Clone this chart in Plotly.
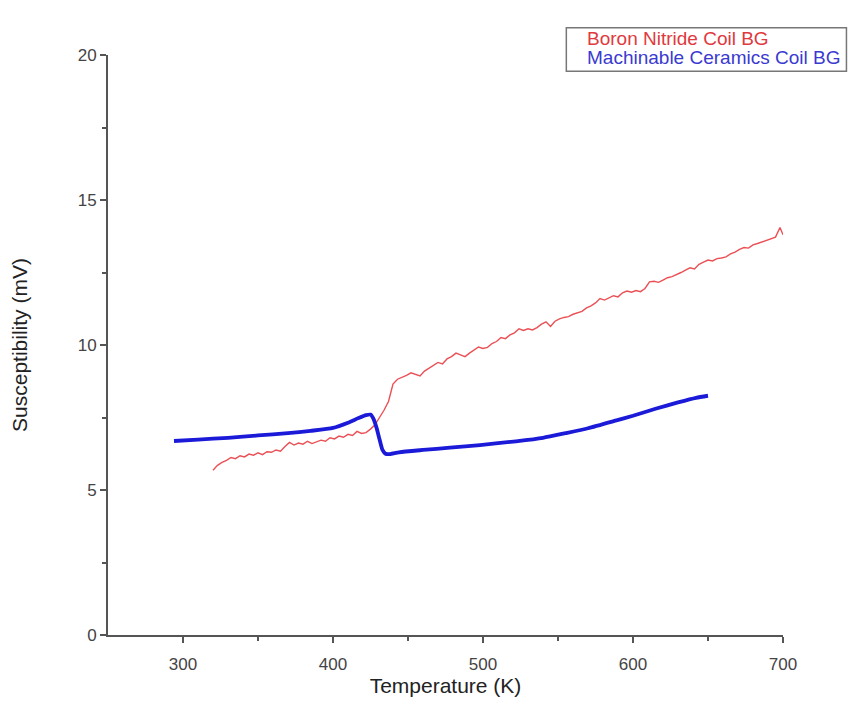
import plotly.graph_objects as go

# Boron Nitride Coil BG (red, noisy)
bn_temp = [320,323,326,329,332,335,338,341,344,347,350,353,356,359,362,365,368,371,374,377,
           380,383,386,389,392,395,398,401,404,407,410,413,416,419,422,425,428,431,434,437,
           440,443,446,449,452,455,458,461,464,467,470,473,476,479,482,485,488,491,494,497,
           500,503,506,509,512,515,518,521,524,527,530,533,536,539,542,545,548,551,554,557,
           560,563,566,569,572,575,578,581,584,587,590,593,596,599,602,605,608,611,614,617,
           620,623,626,629,632,635,638,641,644,647,650,653,656,659,662,665,668,671,674,677,
           680,683,686,689,692,695,698,700]
bn_susc = [5.68,5.85,5.95,6.02,6.12,6.08,6.18,6.14,6.24,6.20,6.28,6.22,6.32,6.30,6.38,6.34,6.50,6.64,6.55,6.62,
           6.58,6.68,6.60,6.66,6.72,6.68,6.80,6.76,6.86,6.82,6.92,6.88,7.02,6.95,6.98,7.10,7.25,7.50,7.75,8.05,
           8.65,8.82,8.88,8.95,9.04,8.98,8.93,9.10,9.20,9.30,9.40,9.35,9.52,9.60,9.72,9.66,9.60,9.72,9.82,9.93,
           9.88,9.92,10.05,10.12,10.26,10.22,10.35,10.42,10.56,10.50,10.56,10.52,10.60,10.72,10.80,10.64,10.82,10.90,10.95,10.98,
           11.06,11.10,11.16,11.28,11.35,11.45,11.60,11.55,11.62,11.70,11.66,11.80,11.86,11.82,11.88,11.84,11.95,12.18,12.20,12.16,
           12.24,12.32,12.36,12.42,12.50,12.58,12.66,12.62,12.78,12.86,12.93,12.90,12.98,13.00,13.04,13.14,13.20,13.30,13.36,13.34,
           13.45,13.50,13.56,13.60,13.66,13.72,14.05,13.80]

# Machinable Ceramics Coil BG (blue, smooth)
mc_temp = [294,310,330,350,370,385,400,410,417,422,425,427,429,431,433,435,438,444,460,478,
           498,522,540,555,570,589,600,615,630,642,650]
mc_susc = [6.69,6.74,6.80,6.88,6.96,7.04,7.14,7.32,7.48,7.58,7.60,7.45,7.15,6.75,6.38,6.25,6.24,6.30,6.38,6.46,
           6.55,6.68,6.80,6.96,7.13,7.40,7.56,7.80,8.02,8.18,8.25]

x_ticks = [300, 400, 500, 600, 700]
y_ticks = [0, 5, 10, 15, 20]

FONT = "Liberation Sans, Arial, sans-serif"

fig = go.Figure()
fig.add_trace(go.Scatter(x=bn_temp, y=bn_susc, mode="lines",
                         line=dict(color="#ea5055", width=1.4), name="Boron Nitride Coil BG",
                         showlegend=False))
fig.add_trace(go.Scatter(x=mc_temp, y=mc_susc, mode="lines",
                         line=dict(color="#1a1ad8", width=3.8, shape="spline", smoothing=0.6),
                         name="Machinable Ceramics Coil BG", showlegend=False))

axis_common = dict(showgrid=False, zeroline=False, showline=True, linecolor="#555555", linewidth=2,
                   ticks="outside", ticklen=6, tickwidth=1.5, tickcolor="#555555",
                   tickfont=dict(family=FONT, size=17, color="#444444"))

fig.update_xaxes(range=[250, 700], tickvals=x_ticks, ticklabelstandoff=7,
                 minor=dict(tickvals=[350, 450, 550, 650], ticks="outside", ticklen=4, tickcolor="#555555"),
                 title=dict(text="Temperature (K)", font=dict(family=FONT, size=21, color="#222222"), standoff=2),
                 **axis_common)
fig.update_yaxes(range=[0, 20], tickvals=y_ticks,
                 minor=dict(tickvals=[2.5, 7.5, 12.5, 17.5], ticks="outside", ticklen=4, tickcolor="#555555"),
                 title=dict(text="Susceptibility (mV)", font=dict(family=FONT, size=21, color="#222222"), standoff=44),
                 **axis_common)

# legend box
fig.add_shape(type="rect", xref="paper", yref="paper", x0=0.679, x1=1.094, y0=0.972, y1=1.047,
              line=dict(color="#777777", width=1.5), fillcolor="white")
fig.add_annotation(xref="paper", yref="paper", x=0.707, y=1.028, xanchor="left", yanchor="middle",
                   text="Boron Nitride Coil BG", showarrow=False,
                   font=dict(family=FONT, size=19, color="#e0393e"))
fig.add_annotation(xref="paper", yref="paper", x=0.707, y=0.996, xanchor="left", yanchor="middle",
                   text="Machinable Ceramics Coil BG", showarrow=False,
                   font=dict(family=FONT, size=19, color="#3a3ad0"))

fig.update_layout(width=840, height=704, plot_bgcolor="white", paper_bgcolor="white",
                  margin=dict(l=100, r=65, t=47, b=77, autoexpand=False), showlegend=False)

fig.write_html("out.html")
